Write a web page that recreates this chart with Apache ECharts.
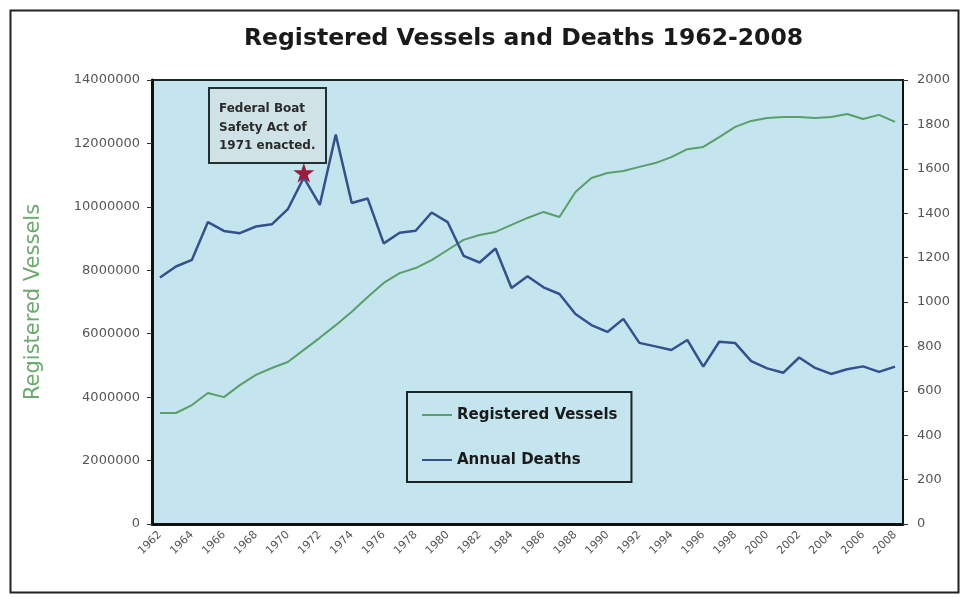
<!DOCTYPE html>
<html>
<head>
<meta charset="utf-8">
<script src="https://cdn.jsdelivr.net/npm/echarts@6/dist/echarts.min.js"></script>
<style>
  html, body { margin: 0; padding: 0; background: #fff; }
  #chart { width: 964px; height: 598px; }
</style>
</head>
<body>
<div id="chart"></div>
<script>
// years 1962..2008
const years = [];
for (let y = 1962; y <= 2008; y++) years.push(String(y));

// registered vessels (left axis)
const vessels = [
  3500000, 3500000, 3750000, 4130000, 4000000, 4380000, 4700000, 4920000, 5110000, 5490000,
  5870000, 6270000, 6690000, 7160000, 7600000, 7910000, 8070000, 8320000, 8640000, 8960000,
  9110000, 9210000, 9430000, 9650000, 9840000, 9680000, 10470000, 10910000, 11070000, 11130000,
  11260000, 11380000, 11570000, 11820000, 11890000, 12200000, 12520000, 12710000, 12800000, 12830000,
  12830000, 12800000, 12830000, 12930000, 12770000, 12900000, 12680000
];

// annual deaths (right axis)
const deaths = [
  1110, 1160, 1190, 1360, 1320, 1310, 1340, 1350, 1418, 1560,
  1437, 1754, 1446, 1466, 1264, 1312, 1321, 1403, 1360, 1208,
  1178, 1241, 1063, 1116, 1066, 1036, 946, 896, 865, 924,
  816, 800, 784, 829, 709, 821, 815, 734, 701, 681,
  750, 703, 676, 697, 710, 685, 709
];

const actYear = '1971';
const noteLines = ['Federal Boat', 'Safety Act of', '1971 enacted.'];

const chart = echarts.init(document.getElementById('chart'));
const font = 'DejaVu Sans';
const plain = v => String(v); // no thousand separators

const option = {
  backgroundColor: '#fff',
  animation: false,
  title: {
    text: 'Registered Vessels and Deaths 1962-2008',
    left: 239,
    top: 22,
    textStyle: { fontFamily: font, fontSize: 23.5, fontWeight: 'bold', color: '#1a1a1a' }
  },
  grid: {
    left: 152, right: 61, top: 80, bottom: 74,
    show: true,
    backgroundColor: '#c4e5ed',
    borderColor: '#1c2626',
    borderWidth: 2
  },
  legend: {
    orient: 'vertical',
    left: 407,
    top: 392,
    padding: [14, 14, 13, 15],
    itemGap: 27,
    icon: 'rect',
    itemWidth: 30,
    itemHeight: 2,
    borderColor: '#1a2424',
    borderWidth: 2,
    textStyle: { fontFamily: font, fontSize: 15, fontWeight: 'bold', color: '#1a1a1a', lineHeight: 18 },
    data: ['Registered Vessels', 'Annual Deaths']
  },
  xAxis: {
    type: 'category',
    data: years,
    boundaryGap: true,
    axisLine: { lineStyle: { color: '#111', width: 3 } },
    axisTick: { interval: 0, length: 4, lineStyle: { color: '#333' } },
    axisLabel: { interval: 1, rotate: 45, fontFamily: font, fontSize: 11, color: '#555', margin: 9 },
    splitLine: { show: false }
  },
  yAxis: [
    {
      type: 'value',
      min: 0, max: 14000000, interval: 2000000,
      name: 'Registered Vessels',
      nameLocation: 'middle',
      nameGap: 108,
      nameRotate: 90,
      nameTextStyle: { fontFamily: font, fontSize: 21, color: '#6aaa6a' },
      axisLine: { show: true, lineStyle: { color: '#111', width: 3 } },
      axisTick: { show: true, length: 5, lineStyle: { color: '#333' } },
      axisLabel: { fontFamily: font, fontSize: 13, color: '#555', margin: 12, formatter: plain },
      splitLine: { show: false }
    },
    {
      type: 'value',
      min: 0, max: 2000, interval: 200,
      position: 'right',
      axisLine: { show: true, lineStyle: { color: '#111', width: 2 } },
      axisTick: { show: true, length: 5, lineStyle: { color: '#333' } },
      axisLabel: { fontFamily: font, fontSize: 13, color: '#555', margin: 14, formatter: plain },
      splitLine: { show: false }
    }
  ],
  series: [
    {
      name: 'Registered Vessels',
      type: 'line',
      yAxisIndex: 0,
      data: vessels,
      symbol: 'none',
      color: '#5a9e6a',
      lineStyle: { width: 2, color: '#5a9e6a' }
    },
    {
      name: 'Annual Deaths',
      type: 'line',
      yAxisIndex: 1,
      data: deaths,
      symbol: 'none',
      color: '#34508f',
      lineStyle: { width: 2.5, color: '#34508f' },
      markPoint: {
        symbol: 'path://M50,0 L61,35 L98,35 L68,57 L79,91 L50,70 L21,91 L32,57 L2,35 L39,35 Z',
        symbolSize: [21, 20],
        symbolOffset: [0, -5],
        itemStyle: { color: '#9b1c3c' },
        label: { show: false },
        data: [{ coord: [actYear, deaths[years.indexOf(actYear)]] }]
      }
    }
  ],
  graphic: [
    {
      type: 'rect',
      left: 8, top: 8,
      shape: { width: 948, height: 582 },
      style: { fill: 'none', stroke: '#222', lineWidth: 2 },
      silent: true
    },
    {
      type: 'group',
      left: 208, top: 87,
      children: [
        {
          type: 'rect',
          shape: { width: 117, height: 75 },
          style: { fill: '#cfe3e6', stroke: '#223030', lineWidth: 2 }
        },
        {
          type: 'text',
          left: 10, top: 12,
          style: {
            text: noteLines.join('\n'),
            font: 'bold 12px "DejaVu Sans"',
            lineHeight: 18.5,
            fill: '#2a2a2a'
          }
        }
      ]
    }
  ]
};

chart.setOption(option);
</script>
</body>
</html>
